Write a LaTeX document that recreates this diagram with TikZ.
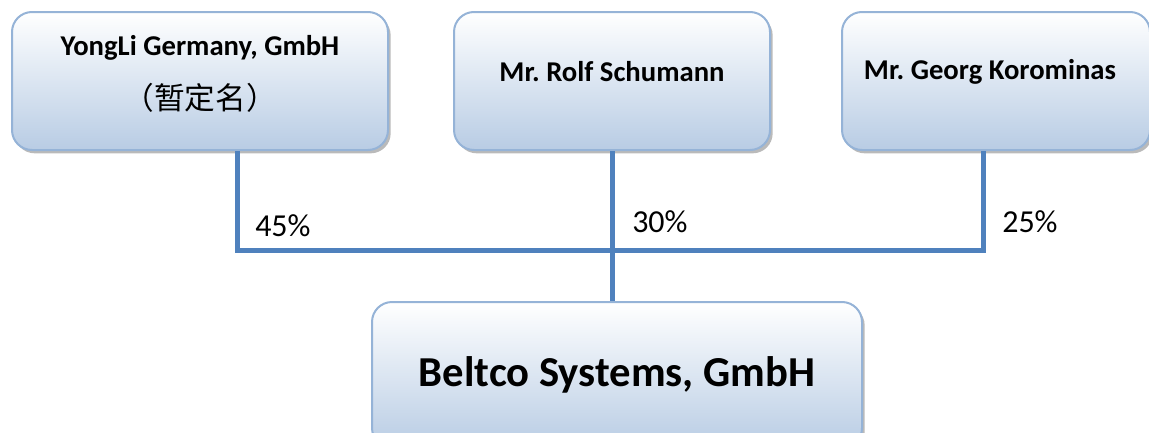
\documentclass[tikz,border=0pt]{standalone}
\usepackage{fontspec}
\setmainfont{Carlito}
\newfontfamily\cjkfont{Noto Sans CJK SC}
\usetikzlibrary{shadows}
\definecolor{boxline}{RGB}{149,179,215}
\definecolor{boxlow}{RGB}{184,204,228}
\definecolor{linkblue}{RGB}{79,129,189}
\begin{document}
\begin{tikzpicture}[x=0.75pt,y=-0.75pt]
\tikzset{
  owner/.style={draw=boxline, line width=1.5pt, rounded corners=15pt,
    top color=white, bottom color=boxlow, inner sep=0pt,
    drop shadow={shadow xshift=2pt, shadow yshift=-2.5pt, fill=black!45, opacity=.6}},
  ownertext/.style={font=\bfseries\fontsize{21.5}{26}\selectfont, align=center},
  link/.style={draw=linkblue, line width=3.75pt},
  share/.style={font=\fontsize{24}{28}\selectfont, inner sep=0pt, anchor=west}
}
\useasboundingbox (0,0) rectangle (1149,432);
\begin{scope}
\clip (0,0) rectangle (1149,432);
\coordinate (j1) at (237,250);
\coordinate (j3) at (983,250);
\coordinate (jm) at (612,250);
% owners
\node[owner, minimum width=376*0.75pt, minimum height=138*0.75pt] (yongli) at (200,81) {};
\node[owner, minimum width=316*0.75pt, minimum height=138*0.75pt] (rolf) at (612,81) {};
\node[owner, minimum width=308*0.75pt, minimum height=138*0.75pt] (georg) at (996,81) {};
\node[owner, minimum width=490*0.75pt, minimum height=146*0.75pt] (beltco) at (617,375) {};
\draw[link] (yongli.south -| j1) -- (j1) -- (j3) -- (georg.south -| j3);
\draw[link] (rolf.south -| jm) -- (beltco.north -| jm);
% texts
\node[ownertext] (yonglitext) at (200,74) {YongLi Germany, GmbH\\[14pt]{\cjkfont\mdseries\fontsize{23}{27}\selectfont （暂定名）}};
\node[ownertext] (rolftext) at (612,72) {Mr.\ Rolf Schumann};
\node[ownertext] (georgtext) at (990,72) {Mr.\ Georg Korominas};
\node[font=\bfseries\fontsize{32}{38}\selectfont] (beltcotext) at (beltco.center) {Beltco Systems, GmbH};
% shares
\node[share] (s45) at (255,226) {45\%};
\node[share] (s30) at (632,222) {30\%};
\node[share] (s25) at (1002,222) {25\%};
\end{scope}
\end{tikzpicture}
\end{document}
